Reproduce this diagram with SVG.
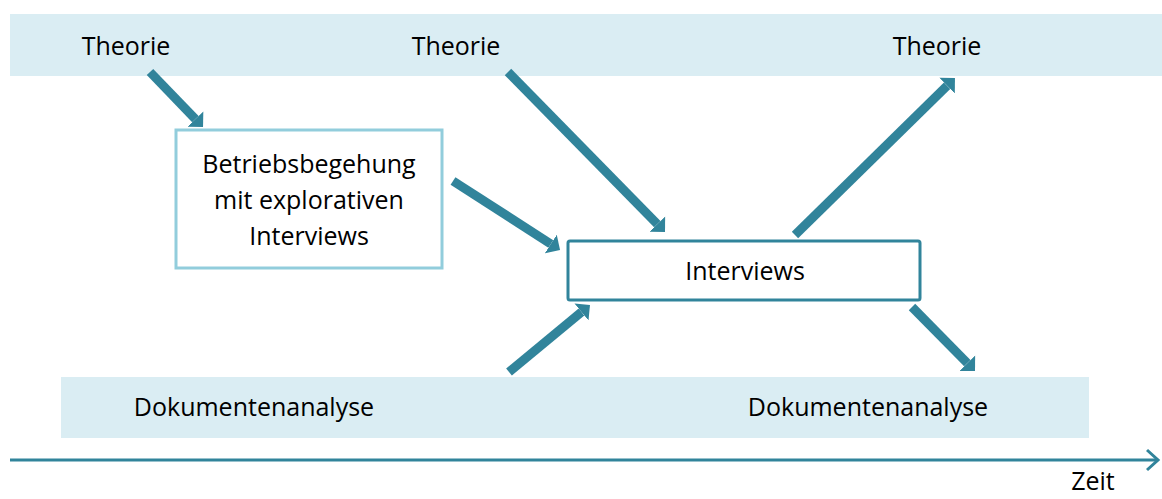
<svg xmlns="http://www.w3.org/2000/svg" width="1162" height="499" viewBox="0 0 1162 499">
  <style>
    .band { fill: #daedf3; }
    .lbl { font-family: "Open Sans", "Liberation Sans", sans-serif; font-size: 25px; fill: #000; text-anchor: middle; }
    .arrow { stroke: #31849b; stroke-width: 9; fill: none; marker-end: url(#head); }
  </style>
  <defs>
    <marker id="head" markerUnits="userSpaceOnUse" markerWidth="14" markerHeight="24" refX="0" refY="11" orient="auto" viewBox="0 0 14 22">
      <path d="M0,0 L11,11 L0,22 z" fill="#31849b"/>
    </marker>
    <marker id="axisHead" markerUnits="userSpaceOnUse" markerWidth="16" markerHeight="24" refX="12" refY="12" orient="auto" viewBox="0 0 16 24">
      <path d="M1,2 L12,12 L1,22" fill="none" stroke="#31849b" stroke-width="3"/>
    </marker>
  </defs>

  <!-- background bands -->
  <g id="theory-band">
    <rect class="band" x="10" y="14" width="1152" height="62"/>
    <text class="lbl" x="126" y="55">Theorie</text>
    <text class="lbl" x="456" y="55">Theorie</text>
    <text class="lbl" x="937" y="55">Theorie</text>
  </g>
  <g id="document-band">
    <rect class="band" x="61" y="377" width="1028" height="61"/>
    <text class="lbl" x="254" y="416">Dokumentenanalyse</text>
    <text class="lbl" x="868" y="416">Dokumentenanalyse</text>
  </g>

  <!-- nodes -->
  <g id="walkthrough">
    <rect x="176" y="130" width="266" height="138" fill="#fff" stroke="#92cddc" stroke-width="3"/>
    <text class="lbl" x="309" y="173">Betriebsbegehung</text>
    <text class="lbl" x="309" y="209">mit explorativen</text>
    <text class="lbl" x="309" y="245">Interviews</text>
  </g>
  <g id="interviews">
    <rect x="568" y="241" width="352" height="59" rx="2" fill="#fff" stroke="#31849b" stroke-width="3"/>
    <text class="lbl" x="745" y="280">Interviews</text>
  </g>

  <!-- connectors -->
  <g id="connectors">
    <line class="arrow" x1="150" y1="72" x2="195.4" y2="119.1"/>
    <line class="arrow" x1="453" y1="181" x2="550.8" y2="244"/>
    <line class="arrow" x1="508" y1="72" x2="657.3" y2="224.1"/>
    <line class="arrow" x1="795" y1="235" x2="947.1" y2="85.7"/>
    <line class="arrow" x1="509" y1="372" x2="581.5" y2="312"/>
    <line class="arrow" x1="912" y1="307" x2="967.3" y2="363.2"/>
  </g>

  <!-- time axis -->
  <g id="time-axis">
    <line x1="10" y1="460" x2="1158" y2="460" stroke="#31849b" stroke-width="3" marker-end="url(#axisHead)"/>
    <text class="lbl" x="1093" y="490" font-size="24">Zeit</text>
  </g>
</svg>
